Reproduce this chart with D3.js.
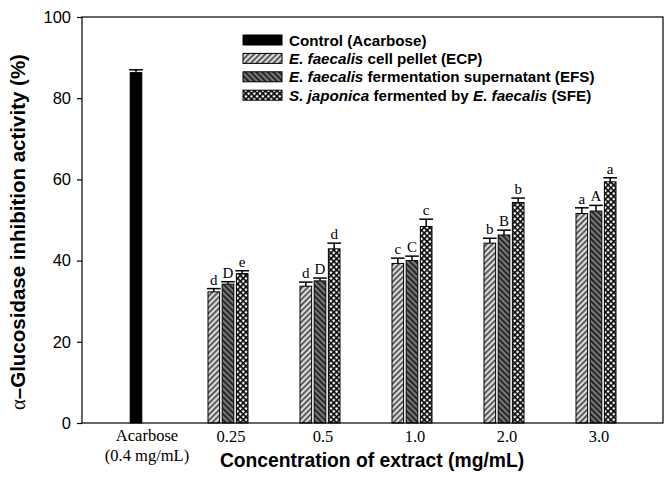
<!DOCTYPE html>
<html>
<head>
<meta charset="utf-8">
<script src="https://cdn.jsdelivr.net/npm/d3@7/dist/d3.min.js"></script>
<style>
	body { margin: 0; background: #fff; }
	svg { display: block; }
</style>
</head>
<body>
<svg id="chart" width="670" height="477"></svg>
<script>
// categories along the x axis
var categories = ["Acarbose", "0.25", "0.5", "1.0", "2.0", "3.0"];
var extractCats = ["0.25", "0.5", "1.0", "2.0", "3.0"];
var seriesKeys = ["ECP", "EFS", "SFE"];

// control (acarbose 0.4 mg/mL)
var controlValues = [86.3];
var controlErrors = [0.7];

// E. faecalis cell pellet
var ecpValues = [32.3, 33.7, 39.3, 44.3, 51.6];
var ecpErrors = [0.8, 1.0, 1.3, 1.2, 1.4];
var ecpLetters = ["d", "d", "c", "b", "a"];

// E. faecalis fermentation supernatant
var efsValues = [34.2, 35.0, 40.0, 46.3, 52.2];
var efsErrors = [0.6, 0.7, 1.1, 1.2, 1.4];
var efsLetters = ["D", "D", "C", "B", "A"];

// S. japonica fermented by E. faecalis
var sfeValues = [36.8, 42.9, 48.4, 54.3, 59.4];
var sfeErrors = [0.7, 1.4, 1.8, 1.1, 1.0];
var sfeLetters = ["e", "d", "c", "b", "a"];

var yTicks = [0, 20, 40, 60, 80, 100];

var legendLabels = [
	[{t: "Control (Acarbose)"}],
	[{t: "E. faecalis", i: true}, {t: " cell pellet (ECP)"}],
	[{t: "E. faecalis", i: true}, {t: " fermentation supernatant (EFS)"}],
	[{t: "S. japonica", i: true}, {t: " fermented by "}, {t: "E. faecalis", i: true}, {t: " (SFE)"}]
];
var legendFills = ["#000", "url(#hatchECP)", "url(#hatchEFS)", "url(#hatchSFE)"];

var PLOT_L = 82, PLOT_R = 663, PLOT_T = 17, PLOT_B = 423;
var SANS = "'Liberation Sans', Arial, sans-serif";
var SERIF = "'Liberation Serif', 'Times New Roman', serif";

var svg = d3.select("#chart");

// patterns
var defs = svg.append("defs");

function hatch(id, bg, fg, angle, cross)
{
	var p = defs.append("pattern")
		.attr("id", id)
		.attr("patternUnits", "userSpaceOnUse")
		.attr("width", 4)
		.attr("height", 4)
		.attr("patternTransform", "rotate(" + angle + ")");
	p.append("rect").attr("width", 4).attr("height", 4).attr("fill", bg);
	p.append("line").attr("x1", 0.8).attr("y1", 0).attr("x2", 0.8).attr("y2", 4)
		.attr("stroke", fg).attr("stroke-width", 1.6);
	if (cross) {
		p.append("line").attr("x1", 0).attr("y1", 0.8).attr("x2", 4).attr("y2", 0.8)
			.attr("stroke", fg).attr("stroke-width", 1.6);
	}
}
hatch("hatchECP", "#dadada", "#404040", 45, false);
hatch("hatchEFS", "#777", "#151515", -45, false);
hatch("hatchSFE", "#fff", "#000", 45, true);

// scales
var x = d3.scalePoint()
	.domain(categories)
	.range([PLOT_L + 54, PLOT_R - 67]);

var inner = d3.scaleBand()
	.domain(seriesKeys)
	.range([-20, 20])
	.paddingInner(0.18);

var y = d3.scaleLinear()
	.domain([0, 100])
	.range([PLOT_B, PLOT_T]);

// build series table
var series = [
	{key: "ECP", fill: "url(#hatchECP)", values: ecpValues, errors: ecpErrors, letters: ecpLetters},
	{key: "EFS", fill: "url(#hatchEFS)", values: efsValues, errors: efsErrors, letters: efsLetters},
	{key: "SFE", fill: "url(#hatchSFE)", values: sfeValues, errors: sfeErrors, letters: sfeLetters}
];

var bars = [];
series.forEach(function(s) {
	extractCats.forEach(function(c, i) {
		bars.push({cat: c, key: s.key, fill: s.fill, v: s.values[i], e: s.errors[i], letter: s.letters[i]});
	});
});
bars.push({cat: "Acarbose", key: "EFS", fill: "#000", v: controlValues[0], e: controlErrors[0], letter: ""});

var bw = inner.bandwidth();

var g = svg.append("g");

g.selectAll("rect.bar")
	.data(bars)
	.enter().append("rect")
	.attr("class", "bar")
	.attr("x", function(d) { return x(d.cat) + inner(d.key); })
	.attr("y", function(d) { return y(d.v); })
	.attr("width", bw)
	.attr("height", function(d) { return y(0) - y(d.v); })
	.attr("fill", function(d) { return d.fill; })
	.attr("stroke", "#000")
	.attr("stroke-width", 1);

// error bars (upper only)
var eb = g.selectAll("g.err")
	.data(bars)
	.enter().append("g")
	.attr("class", "err")
	.attr("stroke", "#000")
	.attr("stroke-width", 1.5);

eb.append("line")
	.attr("x1", function(d) { return x(d.cat) + inner(d.key) + bw / 2; })
	.attr("x2", function(d) { return x(d.cat) + inner(d.key) + bw / 2; })
	.attr("y1", function(d) { return y(d.v); })
	.attr("y2", function(d) { return y(d.v + d.e); });

eb.append("line")
	.attr("x1", function(d) { return x(d.cat) + inner(d.key) - 1; })
	.attr("x2", function(d) { return x(d.cat) + inner(d.key) + bw + 1; })
	.attr("y1", function(d) { return y(d.v + d.e); })
	.attr("y2", function(d) { return y(d.v + d.e); });

g.selectAll("text.letter")
	.data(bars)
	.enter().append("text")
	.attr("class", "letter")
	.attr("x", function(d) { return x(d.cat) + inner(d.key) + bw / 2; })
	.attr("y", function(d) { return y(d.v + d.e) - 4; })
	.attr("text-anchor", "middle")
	.style("font-family", SERIF)
	.style("font-size", "15px")
	.text(function(d) { return d.letter; });

// frame
svg.append("rect")
	.attr("x", PLOT_L)
	.attr("y", PLOT_T)
	.attr("width", PLOT_R - PLOT_L)
	.attr("height", PLOT_B - PLOT_T)
	.attr("fill", "none")
	.attr("stroke", "#000")
	.attr("stroke-width", 1.2);

// y axis
var yAxis = svg.append("g")
	.attr("transform", "translate(" + PLOT_L + ",0)")
	.call(d3.axisLeft(y).tickValues(yTicks).tickSize(5).tickPadding(6));
yAxis.select(".domain").remove();
yAxis.selectAll("line").attr("stroke", "#000").attr("stroke-width", 1.2);
yAxis.selectAll("text")
	.style("font-family", SANS)
	.style("font-size", "16.5px")
	.attr("fill", "#000");

// x category labels
svg.selectAll("text.cat")
	.data(extractCats)
	.enter().append("text")
	.attr("class", "cat")
	.attr("x", function(d) { return x(d) + 3; })
	.attr("y", 442)
	.attr("text-anchor", "middle")
	.style("font-family", SERIF)
	.style("font-size", "16.5px")
	.text(function(d) { return d; });

var acb = svg.append("text")
	.attr("x", x("Acarbose") + 11)
	.attr("y", 441)
	.attr("text-anchor", "middle")
	.style("font-family", SERIF)
	.style("font-size", "16.5px");
acb.append("tspan").text("Acarbose");
acb.append("tspan").attr("x", x("Acarbose") + 11).attr("dy", 20).text("(0.4 mg/mL)");

// axis titles
svg.append("text")
	.attr("x", 372)
	.attr("y", 467)
	.attr("text-anchor", "middle")
	.style("font-family", SANS)
	.style("font-weight", "bold")
	.style("font-size", "19.3px")
	.text("Concentration of extract (mg/mL)");

var yt = svg.append("text")
	.attr("transform", "translate(25,232) rotate(-90)")
	.attr("text-anchor", "middle")
	.style("font-family", SANS)
	.style("font-weight", "bold")
	.style("font-size", "20.5px");
yt.append("tspan").style("font-family", SERIF).style("font-weight", "normal").text("\u03b1");
yt.append("tspan").text("\u2013Glucosidase inhibition activity (%)");

// legend
var legend = svg.append("g").attr("transform", "translate(243,40)");
var rows = legend.selectAll("g.row")
	.data(legendLabels)
	.enter().append("g")
	.attr("class", "row")
	.attr("transform", function(d, i) { return "translate(0," + (i * 18.4) + ")"; });

rows.append("rect")
	.attr("x", 0)
	.attr("y", -5)
	.attr("width", 39)
	.attr("height", 10)
	.attr("fill", function(d, i) { return legendFills[i]; })
	.attr("stroke", "#000")
	.attr("stroke-width", 1);

rows.append("text")
	.attr("x", 46)
	.attr("y", 5.5)
	.style("font-family", SANS)
	.style("font-weight", "bold")
	.style("font-size", "15.2px")
	.each(function(parts) {
		var t = d3.select(this);
		parts.forEach(function(p) {
			t.append("tspan")
				.style("font-style", p.i ? "italic" : "normal")
				.text(p.t);
		});
	});
</script>
</body>
</html>
